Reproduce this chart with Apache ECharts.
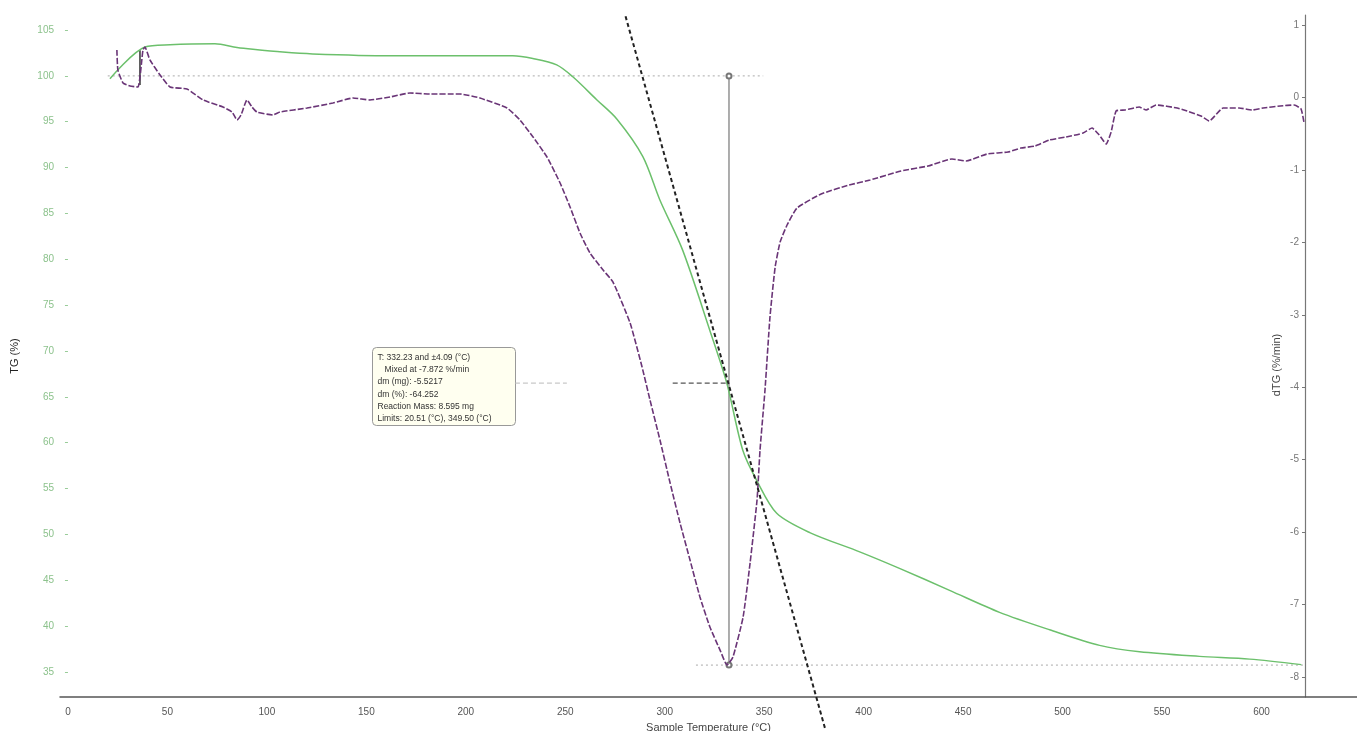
<!DOCTYPE html>
<html>
<head>
<meta charset="utf-8">
<script src="https://cdn.jsdelivr.net/npm/echarts@6.0.0/dist/echarts.min.js"></script>
<style>
  html, body { margin: 0; padding: 0; background: #fff; }
  #chart { width: 1357px; height: 731px; }
</style>
</head>
<body>
<div id="chart"></div>
<script>
// TG curve (left axis, %)
const tgTemp = [21.1, 38.7, 51.3, 73.9, 85.0, 93.0, 108.0, 123, 161.8, 223.6, 233.7, 245.7, 253.8, 265.8, 275.9, 289, 297.5,
  309.0, 322.6, 331.2, 339.2, 346.2, 356.3, 372.9, 398, 418, 443.2, 468.3, 493.5, 518.6, 538.7, 568.8, 594, 620];
const tgValue = [99.7, 103.15, 103.4, 103.5, 103.1, 102.9, 102.6, 102.4, 102.2, 102.2, 101.9, 101.2, 99.9, 97.4, 95.3, 91.2, 86.5,
  81.0, 72.3, 66.5, 59.2, 55.9, 52.3, 50.2, 48.1, 46.3, 43.9, 41.5, 39.6, 37.9, 37.2, 36.7, 36.4, 35.8];

// DTG curve (right axis, %/min)
const dtgTemp = [24.6, 25.1, 27.7, 31.2, 35.2, 37.7, 38.7, 41.2, 46.3, 51.3, 59.8, 67.9, 77.9, 82.5, 85.0, 87.0, 90.0, 92.5,
  95.0, 103.1, 106.6, 120.2, 133.2, 143.3, 151.8, 161.9, 171.9, 182.0, 197.1, 207.1, 220.7, 227.2, 233.8, 240.8, 247.4,
  252.4, 257.4, 262.4, 269.0, 274.0, 282.6, 288.6, 292.6, 297.6, 302.7, 307.7, 312.7, 317.7, 322.7, 327.8, 331.3, 334.3,
  339.4, 342.9, 346.4, 347.9, 350.4, 352.9, 355.5, 358.0, 361.5, 366.5, 378.6, 392.7, 403.2, 418.8, 432.4, 444.4, 451.5,
  462.0, 472.6, 479.1, 486.2, 493.2, 501.8, 510.3, 514.8, 518.4, 521.9, 524.4, 526.9, 531.4, 538.5, 542.0, 547.0, 557.6,
  562.6, 569.6, 573.7, 580.7, 588.7, 595.3, 600.8, 609.4, 616.4, 619.9, 621.4];
const dtgValue = [0.655, 0.379, 0.199, 0.158, 0.144, 0.655, 0.696, 0.517, 0.310, 0.144, 0.117, -0.035, -0.132, -0.201, -0.311,
  -0.242, -0.035, -0.132, -0.201, -0.242, -0.201, -0.146, -0.077, -0.008, -0.035, 0.006, 0.061, 0.047, 0.047, -0.008, -0.146,
  -0.311, -0.546, -0.822, -1.181, -1.512, -1.871, -2.147, -2.382, -2.548, -3.114, -3.721, -4.177, -4.729, -5.322, -5.875,
  -6.385, -6.896, -7.310, -7.628, -7.835, -7.724, -7.172, -6.427, -5.557, -4.867, -4.039, -3.031, -2.341, -1.996, -1.761,
  -1.526, -1.333, -1.209, -1.140, -1.015, -0.946, -0.850, -0.877, -0.781, -0.753, -0.698, -0.670, -0.588, -0.546, -0.491,
  -0.422, -0.518, -0.643, -0.477, -0.187, -0.173, -0.132, -0.173, -0.104, -0.146, -0.187, -0.256, -0.325, -0.146, -0.146,
  -0.173, -0.146, -0.118, -0.104, -0.160, -0.353];

// tick labels
const xTicks = [0, 50, 100, 150, 200, 250, 300, 350, 400, 450, 500, 550, 600];
const tgTicks = [35, 40, 45, 50, 55, 60, 65, 70, 75, 80, 85, 90, 95, 100, 105];
const dtgTicks = [-8, -7, -6, -5, -4, -3, -2, -1, 0, 1];

// analysis annotation lines (TG axis)
const tangentLine = [[280.3, 106.5], [380.9, 28.6]];
const startLine = [[20, 100], [349.5, 100]];
const residueLine = [[315.7, 35.75], [622, 35.75]];
const peakLine = [[332.3, 100], [332.3, 35.75]];
const midLineFaint = [[224.7, 66.5], [250.8, 66.5]];
const midLineDark = [[304, 66.5], [331.3, 66.5]];
const startMark = [[36.2, 102.8], [36.2, 99.0]];

const boxLines = [
  'T: 332.23 and \u00b14.09 (\u00b0C)',
  '   Mixed at -7.872 %/min',
  'dm (mg): -5.5217',
  'dm (%): -64.252',
  'Reaction Mass: 8.595 mg',
  'Limits: 20.51 (\u00b0C), 349.50 (\u00b0C)'
];

const zip = (a, b) => a.map((v, i) => [v, b[i]]);

const chart = echarts.init(document.getElementById('chart'));

const annot = (data, style, extra) => Object.assign({
  type: 'line', yAxisIndex: 0, data: data, showSymbol: false, silent: true,
  lineStyle: style, z: 3, animation: false
}, extra || {});

chart.setOption({
  animation: false,
  backgroundColor: '#fff',
  textStyle: { fontFamily: 'Liberation Sans, DejaVu Sans, sans-serif' },
  grid: { left: 60, right: 0, top: 15, bottom: 34, containLabel: false, outerBoundsMode: 'none' },
  xAxis: {
    type: 'value', min: -4, max: 648,
    name: 'Sample Temperature (\u00b0C)', nameLocation: 'middle', nameGap: 25,
    nameTextStyle: { color: '#444', fontSize: 11 },
    axisLine: { show: true, onZero: false, lineStyle: { color: '#555', width: 1.5 } },
    axisTick: { show: false },
    axisLabel: { customValues: xTicks, color: '#555', fontSize: 10, margin: 10 },
    splitLine: { show: false }
  },
  yAxis: [
    {
      type: 'value', position: 'left', min: 32.27, max: 106.64,
      name: 'TG (%)', nameLocation: 'middle', nameGap: 40, nameRotate: 90,
      nameTextStyle: { color: '#222', fontSize: 11 },
      axisLine: { show: false },
      axisTick: { show: true, customValues: tgTicks, length: 3, lineStyle: { color: '#9c9' } },
      axisLabel: { customValues: tgTicks, color: '#8cc28c', fontSize: 10, margin: 6 },
      splitLine: { show: false }
    },
    {
      type: 'value', position: 'right', min: -8.276, max: 1.138, offset: -52,
      axisLine: { show: true, onZero: false, lineStyle: { color: '#777', width: 1.2 } },
      axisTick: { show: true, inside: true, customValues: dtgTicks, length: 3, lineStyle: { color: '#777' } },
      axisLabel: { inside: true, customValues: dtgTicks, color: '#777', fontSize: 10, margin: 6 },
      splitLine: { show: false }
    }
  ],
  series: [
    annot(startLine, { color: '#aaa', width: 1, type: [2, 3] }),
    annot(residueLine, { color: '#aaa', width: 1, type: [2, 3] }),
    annot(midLineFaint, { color: '#bbb', width: 1, type: [5, 3] }),
    annot(midLineDark, { color: '#555', width: 1.2, type: [5, 3] }),
    {
      type: 'line', yAxisIndex: 0, data: zip(tgTemp, tgValue), showSymbol: false, smooth: 0.3,
      lineStyle: { color: '#6cc06c', width: 1.5 }, z: 4
    },
    {
      type: 'line', yAxisIndex: 1, data: zip(dtgTemp, dtgValue), showSymbol: false, smooth: 0.15,
      lineStyle: { color: '#6a3577', width: 1.6, type: [6, 2] }, z: 5
    },
    annot(peakLine, { color: '#777', width: 1.2 }, {
      showSymbol: true, symbol: 'emptyCircle', symbolSize: 5, itemStyle: { color: '#777' }
    }),
    annot(startMark, { color: '#333', width: 1.5 }),
    annot(tangentLine, { color: '#222', width: 2, type: [4, 3] }, { clip: false, z: 6 })
  ],
  graphic: [
    {
      type: 'text', x: 1277, y: 365, rotation: Math.PI / 2, silent: true,
      style: {
        text: 'dTG (%/min)', fill: '#444', fontSize: 11, align: 'center', verticalAlign: 'middle',
        fontFamily: 'Liberation Sans, DejaVu Sans, sans-serif'
      }
    },
    {
      type: 'group', left: 372, top: 347, silent: true,
      children: [
        {
          type: 'rect', shape: { x: 0, y: 0, width: 143, height: 78, r: 4 },
          style: { fill: '#fffff0', stroke: '#999', lineWidth: 1 }
        },
        {
          type: 'text', x: 5, y: 4,
          style: {
            text: boxLines.join('\n'), fill: '#333', fontSize: 8.5, lineHeight: 12.2,
            fontFamily: 'Liberation Sans, DejaVu Sans, sans-serif'
          }
        }
      ]
    }
  ]
});
</script>
</body>
</html>
